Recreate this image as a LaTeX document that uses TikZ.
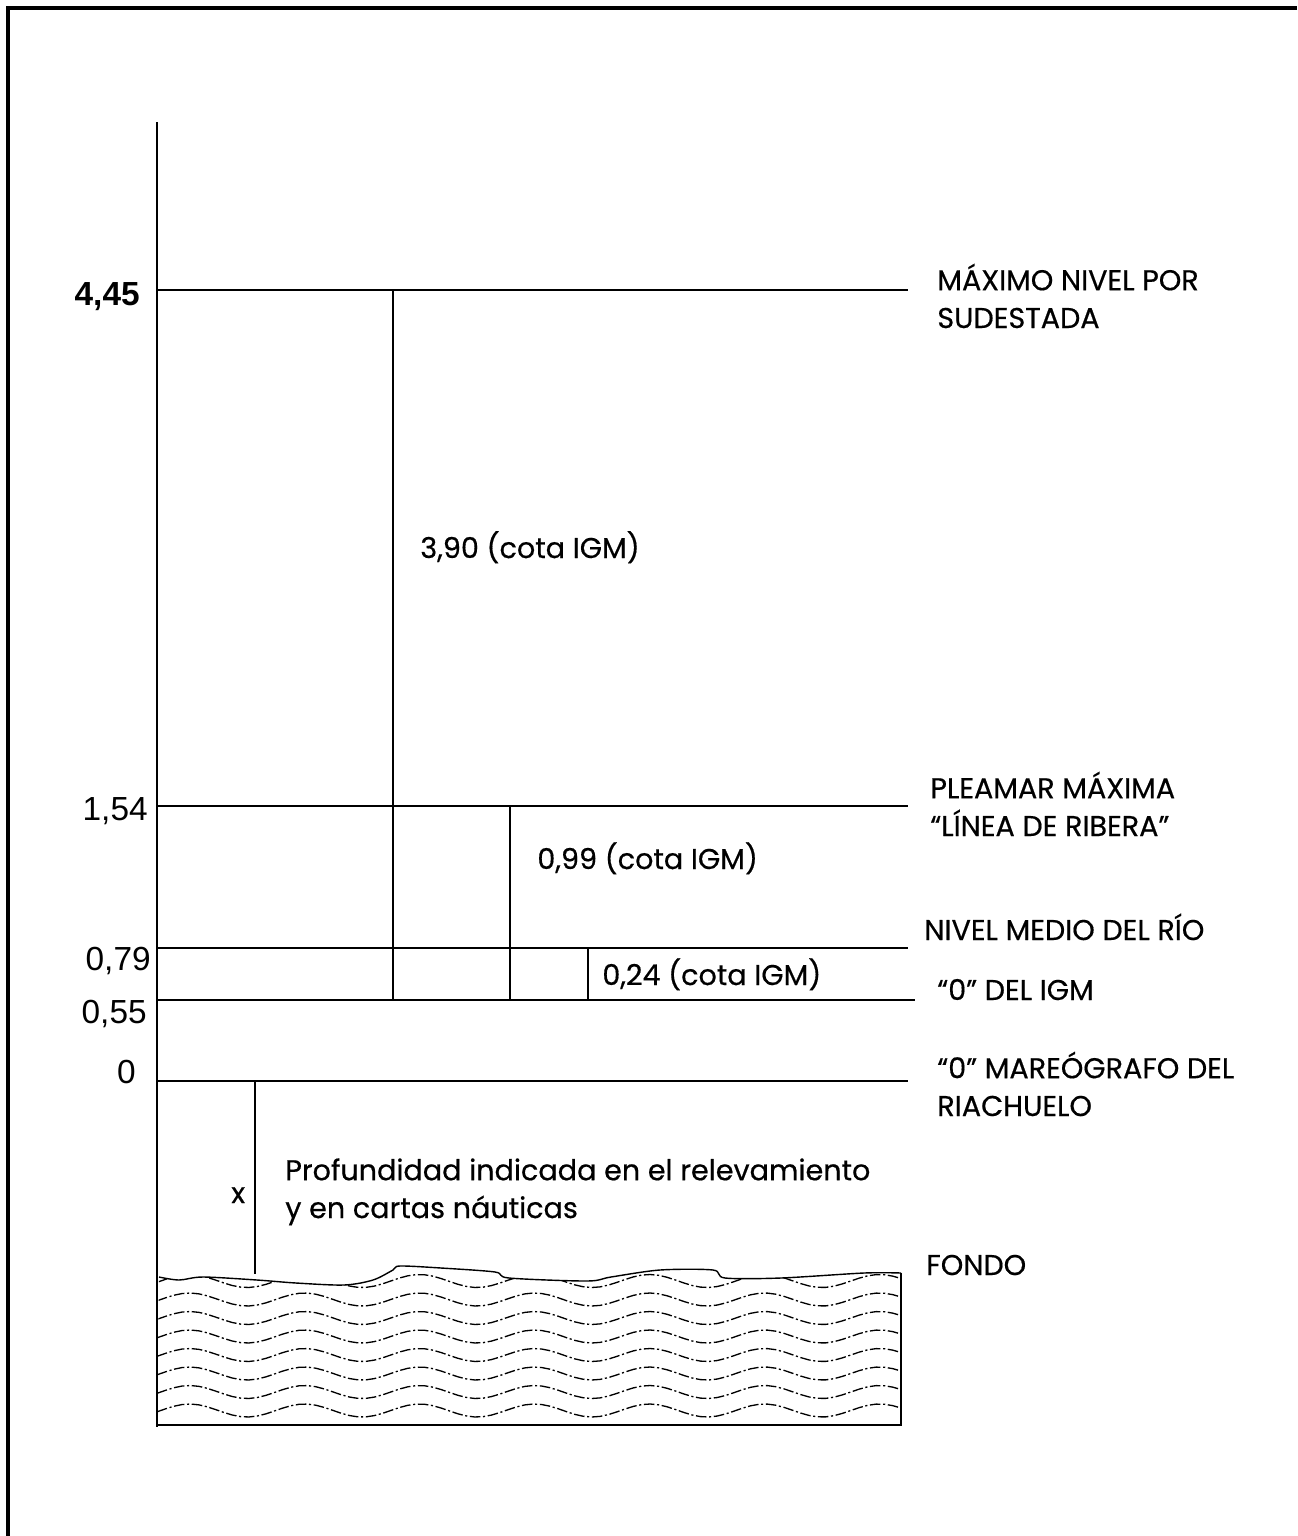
\documentclass[tikz,border=0pt]{standalone}
\usepackage{fontspec}
\usepackage{tikz}
\usetikzlibrary{positioning,calc}
\newfontfamily\gothic{Poppins}[FakeBold=0.5]
\newfontfamily\arialf{Liberation Sans}

\begin{document}
\begin{tikzpicture}[
  x=0.2mm,y=-0.2mm,
  level/.style={line width=0.8pt},
  dim/.style={line width=0.6pt},
  tag/.style={font=\gothic\fontsize{16.3}{21.5}\selectfont,align=left,anchor=base west,inner sep=0pt},
  num/.style={font=\arialf\fontsize{19}{22}\selectfont,anchor=base east,inner sep=0pt},
  sed/.style={line width=0.75pt,dash pattern=on 6pt off 1.5pt on 1.2pt off 1.5pt}
]
\useasboundingbox (0,0) rectangle (1297,1536);
\draw[line width=2.3pt] (8,1536) -- (8,8) -- (1297,8);

\coordinate (top) at (157,122);
\coordinate (bot) at (157,1427);
\coordinate (a445) at (157,290); \coordinate (b445) at (908,290);
\coordinate (a154) at (157,806); \coordinate (b154) at (908,806);
\coordinate (a079) at (157,948); \coordinate (b079) at (908,948);
\coordinate (a055) at (157,1000); \coordinate (b055) at (915,1000);
\coordinate (a0) at (157,1081); \coordinate (b0) at (908,1081);
\coordinate (v390) at (393,290);
\coordinate (v099) at (510,806);
\coordinate (v024) at (588,948);
\coordinate (vx) at (255,1081);

\draw[level] (top) -- (bot);
\draw[level] (a445) -- (b445);
\draw[level] (a154) -- (b154);
\draw[level] (a079) -- (b079);
\draw[level] (a055) -- (b055);
\draw[level] (a0) -- (b0);
\draw[dim] (v390) -- (v390 |- a055);
\draw[dim] (v099) -- (v099 |- a055);
\draw[dim] (v024) -- (v024 |- a055);
\draw[dim] (vx) -- (255,1274);

\begin{scope}
  \clip plot[smooth] coordinates {(159,1277) (179,1280) (203,1277) (257,1280) (296,1283) (344,1285) (373,1280) (393,1270) (400,1266) (441,1268) (495,1272) (509,1278) (587,1281) (611,1277) (660,1270) (713,1270) (725,1278) (781,1278) (864,1273) (901,1273)} -- (901,1425) -- (157,1425) -- cycle;
  \foreach \k in {0,...,7}
    \draw[sed] plot[domain=157:901,samples=90] (\x,{1281+18.5*\k+6.5*cos(3.1304*(\x-247))});
\end{scope}
\draw[level] plot[smooth] coordinates {(159,1277) (179,1280) (203,1277) (257,1280) (296,1283) (344,1285) (373,1280) (393,1270) (400,1266) (441,1268) (495,1272) (509,1278) (587,1281) (611,1277) (660,1270) (713,1270) (725,1278) (781,1278) (864,1273) (901,1273)};
\draw[level] (901,1273) -- (901,1425) -- (bot |- 901,1425);

\node[num,font=\arialf\bfseries\fontsize{19}{22}\selectfont] (n445) at (140,305) {4,45};
\node[num] (n154) at (148,820) {1,54};
\node[num] (n079) at (151,970) {0,79};
\node[num] (n055) at (147,1023) {0,55};
\node[num] (n0) at (136,1083) {0};

\node[tag] (c390) at (420,558) {3,90 (cota IGM)};
\node[tag] (c099) at (537,869) {0,99 (cota IGM)};
\node[tag] (c024) at (602,985) {0,24 (cota IGM)};

\node[tag] (maxsud) at (937,328) {MÁXIMO NIVEL POR\\SUDESTADA};
\node[tag] (pleamar) at (930,836) {PLEAMAR MÁXIMA\\“LÍNEA DE RIBERA”};
\node[tag] (medio) at (924,940) {NIVEL MEDIO DEL RÍO};
\node[tag] (ceroigm) at (937,1000) {“0” DEL IGM};
\node[tag] (ceromar) at (937,1116) {“0” MAREÓGRAFO DEL\\RIACHUELO};
\node[tag] (fondo) at (926,1275) {FONDO};
\node[tag] (prof) at (285,1218) {Profundidad indicada en el relevamiento\\y en cartas náuticas};
\node[tag] (xlab) at (231,1203) {x};
\end{tikzpicture}
\end{document}
